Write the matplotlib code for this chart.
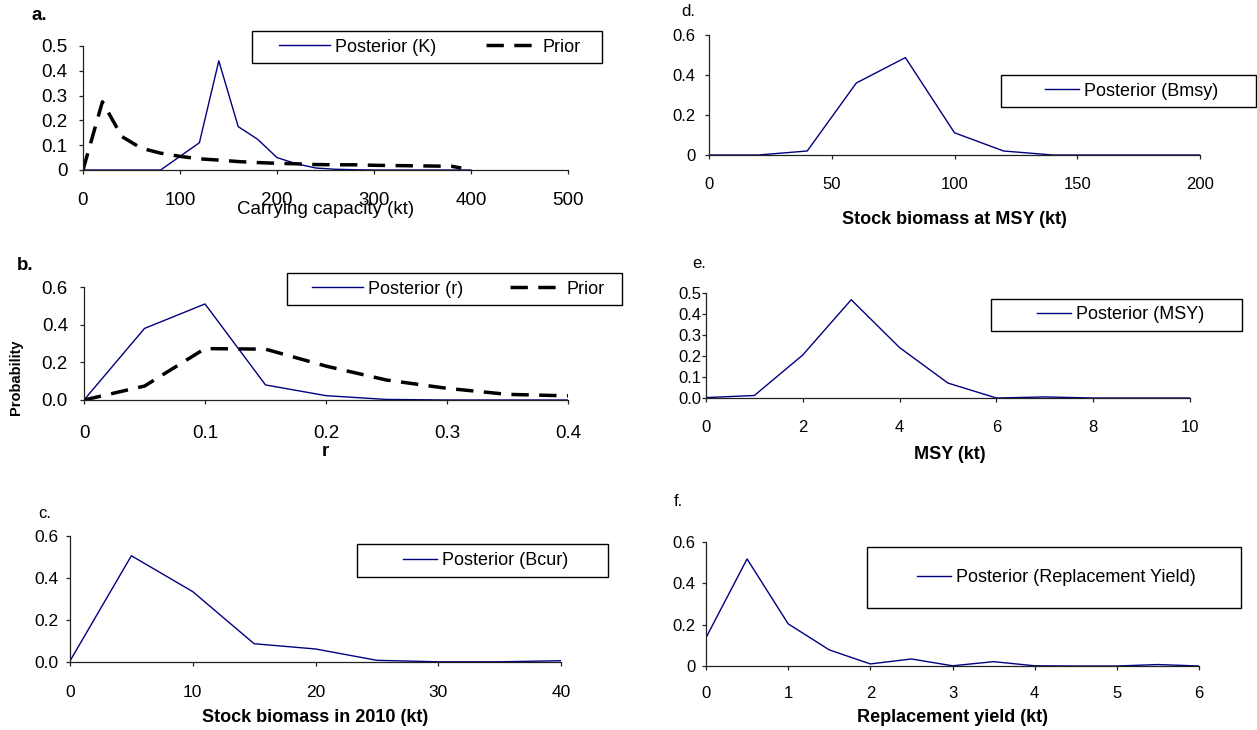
import matplotlib
matplotlib.use('Agg')
import matplotlib.pyplot as plt
from matplotlib.patches import Rectangle

plt.rcParams['font.family'] = ['Liberation Sans', 'DejaVu Sans']

# a. carrying capacity
k_x = [0, 20, 40, 60, 80, 100, 120, 140, 160, 180, 200, 220, 240, 260, 280, 300, 320, 340, 360, 380, 400]
k_post = [0, 0, 0, 0, 0, 0.055, 0.11, 0.44, 0.175, 0.124, 0.05, 0.025, 0.008, 0.003, 0.001, 0, 0, 0, 0, 0, 0]
k_prior_x = [0, 20, 40, 60, 80, 100, 120, 140, 160, 180, 200, 220, 240, 260, 280, 300, 320, 340, 360, 380, 390]
k_prior = [0, 0.275, 0.135, 0.088, 0.068, 0.055, 0.045, 0.04, 0.034, 0.03, 0.027, 0.025, 0.022, 0.021, 0.021,
           0.019, 0.018, 0.017, 0.016, 0.015, 0.008]

# b. r
r_x = [0, 0.05, 0.1, 0.15, 0.2, 0.25, 0.3, 0.35, 0.4]
r_post = [0, 0.38, 0.51, 0.08, 0.023, 0.003, 0, 0, 0]
r_prior = [0, 0.074, 0.273, 0.27, 0.18, 0.106, 0.062, 0.03, 0.022]

# c. biomass 2010
bcur_x = [0, 5, 10, 15, 20, 25, 30, 35, 40]
bcur_post = [0.005, 0.506, 0.335, 0.087, 0.062, 0.008, 0.001, 0.001, 0.006]

# d. Bmsy
bmsy_x = [0, 20, 40, 60, 80, 100, 120, 140, 160, 180, 200]
bmsy_post = [0, 0, 0.02, 0.36, 0.487, 0.111, 0.02, 0, 0, 0, 0]

# e. MSY
msy_x = [0, 1, 2, 3, 4, 5, 6, 7, 8, 9, 10]
msy_post = [0.002, 0.012, 0.205, 0.468, 0.24, 0.071, 0, 0.005, 0, 0, 0]

# f. replacement yield
ry_x = [0, 0.5, 1, 1.5, 2, 2.5, 3, 3.5, 4, 4.5, 5, 5.5, 6]
ry_post = [0.137, 0.518, 0.204, 0.078, 0.01, 0.034, 0.001, 0.021, 0.001, 0, 0, 0.007, 0]

W, H = 1257, 730
NAVY = '#000080'
fig = plt.figure(figsize=(W / 100, H / 100), dpi=100)


def pbox(x0, x1, y0, y1):
    return [x0 / W, 1 - y1 / H, (x1 - x0) / W, (y1 - y0) / H]


def panel(box, xlim, xticks, xlabels, yticks, ylabels, tfs, xpad, ypad):
    ax = fig.add_axes(pbox(*box))
    ax.set_xlim(*xlim)
    ax.set_ylim(yticks[0], yticks[-1])
    ax.set_xticks(xticks, xlabels)
    ax.set_yticks(yticks, ylabels)
    for s in ['top', 'right']:
        ax.spines[s].set_visible(False)
    for s in ['left', 'bottom']:
        ax.spines[s].set_color('#222222')
        ax.spines[s].set_linewidth(0.9)
    ax.tick_params(axis='x', direction='out', length=3, width=0.9, color='#222222', labelsize=tfs, pad=xpad + 2.3)
    ax.tick_params(axis='y', direction='out', length=3, width=0.9, color='#222222', labelsize=tfs, pad=ypad)
    return ax


def xlab(ax, text, cx, cy, bold=True, fs=13):
    ax.set_xlabel(text, fontsize=fs, fontweight='bold' if bold else 'normal', va='center')
    ax.xaxis.set_label_coords(cx, cy)


def legend_box(ax, frame, hx, cy, ncol=1, hl=1.88, cs=2.0):
    x0, x1, y0, y1 = frame
    fig.add_artist(Rectangle((x0 / W, 1 - y1 / H), (x1 - x0) / W, (y1 - y0) / H,
                             transform=fig.transFigure, facecolor='white', edgecolor='black', lw=1, zorder=4))
    handles, labels = ax.get_legend_handles_labels()
    leg = fig.legend(handles, labels, loc='center left', bbox_to_anchor=(hx / W, 1 - cy / H),
                     bbox_transform=fig.transFigure, frameon=False, fontsize=13, ncol=ncol, handlelength=hl,
                     handletextpad=0.28, columnspacing=cs, borderpad=0, borderaxespad=0)
    leg.set_zorder(6)


def plabel(text, x, y, bold=False, fs=12):
    fig.text(x / W, 1 - y / H, text, fontsize=fs, fontweight='bold' if bold else 'normal', ha='left', va='center')


# a
ax1 = panel((83, 568, 46, 170), (0, 500), [0, 100, 200, 300, 400, 500], ['0', '100', '200', '300', '400', '500'],
            [0, 0.1, 0.2, 0.3, 0.4, 0.5], ['0', '0.1', '0.2', '0.3', '0.4', '0.5'], 13.5, 10.4, 8)
ax1.plot(k_x, k_post, color=NAVY, lw=1.0, label='Posterior (K)')
ax1.plot(k_prior_x, k_prior, color='black', lw=2.5, dashes=(5, 3), label='Prior')
xlab(ax1, 'Carrying capacity (kt)', 0.501, -0.32, bold=False, fs=13.5)
legend_box(ax1, (252, 602, 31, 63), 279, 47, ncol=2, hl=2.82, cs=2.77)
plabel('a.', 32, 15, bold=True, fs=13.5)

# b
ax2 = panel((84, 568, 287, 400), (0, 0.4), [0, 0.1, 0.2, 0.3, 0.4], ['0', '0.1', '0.2', '0.3', '0.4'],
            [0, 0.2, 0.4, 0.6], ['0.0', '0.2', '0.4', '0.6'], 13.5, 12.4, 8.6)
ax2.plot(r_x, r_post, color=NAVY, lw=1.0, label='Posterior (r)')
ax2.plot(r_x, r_prior, color='black', lw=2.5, dashes=(5, 3), label='Prior')
xlab(ax2, 'r', 0.498, -0.46, fs=13.5)
ax2.set_ylabel('Probability', fontsize=10.5, fontweight='bold', va='center')
ax2.yaxis.set_label_coords(-0.1405, 0.2035)
legend_box(ax2, (287, 622, 273, 305), 312, 289, ncol=2, hl=2.82, cs=2.6)
plabel('b.', 17, 266, bold=True, fs=13.5)

# c
ax3 = panel((70, 561, 536, 662), (0, 40), [0, 10, 20, 30, 40], ['0', '10', '20', '30', '40'],
            [0, 0.2, 0.4, 0.6], ['0.0', '0.2', '0.4', '0.6'], 12.5, 11, 5)
ax3.plot(bcur_x, bcur_post, color=NAVY, lw=1.0, label='Posterior (Bcur)')
xlab(ax3, 'Stock biomass in 2010 (kt)', 0.5, -0.44)
legend_box(ax3, (357, 608, 544, 577), 403, 560.5)
plabel('c.', 38, 513)

# d
ax4 = panel((709, 1200, 35, 155), (0, 200), [0, 50, 100, 150, 200], ['0', '50', '100', '150', '200'],
            [0, 0.2, 0.4, 0.6], ['0', '0.2', '0.4', '0.6'], 12, 10.4, 6.5)
ax4.plot(bmsy_x, bmsy_post, color=NAVY, lw=1.0, label='Posterior (Bmsy)')
xlab(ax4, 'Stock biomass at MSY (kt)', 0.5, -0.54)
legend_box(ax4, (1001, 1256, 75, 107), 1045, 91)
plabel('d.', 681, 11)

# e
ax5 = panel((706, 1190, 293, 398), (0, 10), [0, 2, 4, 6, 8, 10], ['0', '2', '4', '6', '8', '10'],
            [0, 0.1, 0.2, 0.3, 0.4, 0.5], ['0.0', '0.1', '0.2', '0.3', '0.4', '0.5'], 12, 10.6, 0.5)
ax5.plot(msy_x, msy_post, color=NAVY, lw=1.0, label='Posterior (MSY)')
xlab(ax5, 'MSY (kt)', 0.503, -0.537)
legend_box(ax5, (991, 1242, 299, 331), 1037, 315)
plabel('e.', 692, 263)

# f
ax6 = panel((706, 1199, 542, 666), (0, 6), [0, 1, 2, 3, 4, 5, 6], ['0', '1', '2', '3', '4', '5', '6'],
            [0, 0.2, 0.4, 0.6], ['0', '0.2', '0.4', '0.6'], 12, 8.9, 4.3)
ax6.plot(ry_x, ry_post, color=NAVY, lw=1.0, label='Posterior (Replacement Yield)')
xlab(ax6, 'Replacement yield (kt)', 0.501, -0.413)
legend_box(ax6, (867, 1241, 547, 608), 917, 577.5)
plabel('f.', 674, 502)

fig.savefig('out.png', dpi=100)
